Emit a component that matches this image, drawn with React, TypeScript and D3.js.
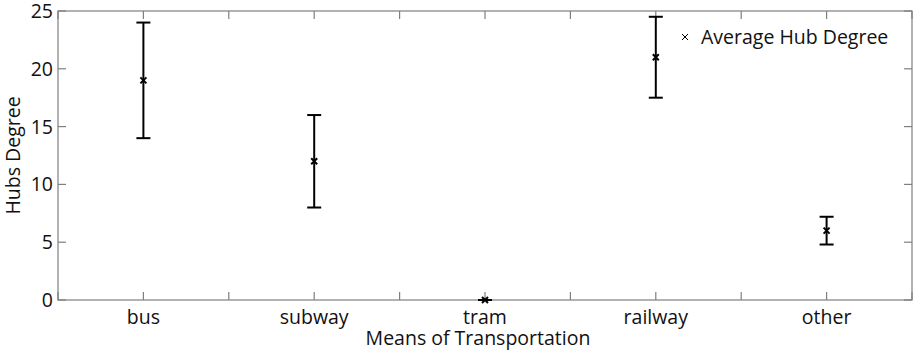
import React from "react";
import * as d3 from "d3";

const categories = ["bus", "subway", "tram", "railway", "other"];
const means = [19, 12, 0, 21, 6];
const lowers = [14, 8, 0, 17.5, 4.8];
const uppers = [24, 16, 0, 24.5, 7.2];
const yTicks = [0, 5, 10, 15, 20, 25];

const W = 917, H = 351;
const M = { left: 58, right: 5, top: 11, bottom: 51 };

export default function App() {
  const x = d3.scaleLinear().domain([0.5, 5.5]).range([M.left, W - M.right]);
  const y = d3.scaleLinear().domain([0, 25]).range([H - M.bottom, M.top]);
  const xTicks = d3.range(0.5, 5.51, 0.5);
  const axisColor = "#7f7f7f";
  const font = "'Open Sans', sans-serif";
  const x0 = x(0.5), x1 = x(5.5), y0 = y(0), y1 = y(25);
  const tl = 8;
  const cross = (cx: number, cy: number, s: number) =>
    `M${cx - s},${cy - s}L${cx + s},${cy + s}M${cx - s},${cy + s}L${cx + s},${cy - s}`;
  return (
    <svg width={W} height={H} style={{ position: "absolute", left: 0, top: 0, background: "#fff" }}>
      <g stroke={axisColor} strokeWidth={1.2} fill="none">
        <rect x={x0} y={y1} width={x1 - x0} height={y0 - y1} />
        {xTicks.map((t) => (
          <g key={"x" + t}>
            <line x1={x(t)} x2={x(t)} y1={y0} y2={y0 - tl} />
            <line x1={x(t)} x2={x(t)} y1={y1} y2={y1 + tl} />
          </g>
        ))}
        {yTicks.map((t) => (
          <g key={"y" + t}>
            <line x1={x0} x2={x0 + tl} y1={y(t)} y2={y(t)} />
            <line x1={x1} x2={x1 - tl} y1={y(t)} y2={y(t)} />
          </g>
        ))}
      </g>
      <g fontFamily={font} fontSize={19.5} fill="#111">
        {yTicks.map((t) => (
          <text key={"yl" + t} x={x0 - 5} y={y(t) + 7} textAnchor="end">{t}</text>
        ))}
        {categories.map((c, i) => (
          <text key={"xl" + c} x={x(i + 1)} y={324} textAnchor="middle">{c}</text>
        ))}
        <text x={(x0 + x1) / 2 - 7} y={345} textAnchor="middle">Means of Transportation</text>
        <text transform={`translate(20,${(y0 + y1) / 2}) rotate(-90)`} textAnchor="middle">Hubs Degree</text>
        <text x={701} y={44}>Average Hub Degree</text>
      </g>
      <g stroke="#000" strokeWidth={2} fill="none">
        {categories.map((c, i) => {
          const cx = x(i + 1);
          const hw = 7;
          return (
            <g key={"e" + c}>
              <line x1={cx} x2={cx} y1={y(lowers[i])} y2={y(uppers[i])} />
              <line x1={cx - hw} x2={cx + hw} y1={y(lowers[i])} y2={y(lowers[i])} />
              <line x1={cx - hw} x2={cx + hw} y1={y(uppers[i])} y2={y(uppers[i])} />
              <path d={cross(cx, y(means[i]), 3)} />
            </g>
          );
        })}
      </g>
      <path d={cross(685, 37, 3)} stroke="#000" strokeWidth={1} fill="none" />
    </svg>
  );
}
